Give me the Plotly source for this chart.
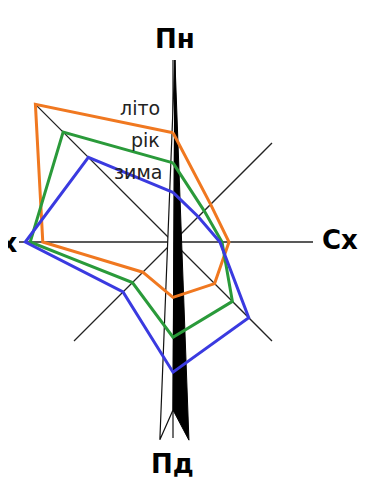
import numpy as np
import plotly.graph_objects as go

# wind directions (degrees clockwise from north) and repeatability, %
directions = ["Пн", "ПнСх", "Сх", "ПдСх", "Пд", "ПдЗх", "Зх", "ПнЗх"]
angles = [0, 45, 90, 135, 180, 225, 270, 315]

summer = [15.6, 7.6, 8.0, 8.4, 7.9, 6.1, 18.6, 27.8]   # літо
year = [11.3, 6.3, 7.0, 12.0, 13.6, 8.2, 20.4, 22.2]    # рік
winter = [7.1, 5.1, 6.7, 15.3, 18.6, 10.1, 21.1, 17.1]  # зима

series_names = ["літо", "рік", "зима"]
series_colors = ["#f07820", "#2a9a3a", "#3a3ae0"]

# length of the drawn rose axes, same units
axis_len = [26, 20, 20, 20, 28, 20, 22, 28]

# compass needle outline (r, theta): tip, tail corner, notch
needle_r_black = [26.0, 28.4, 24.0, 26.0]
needle_t_black = [0.6, 175.4, 180.0, 0.6]
needle_r_white = [26.0, 28.3, 24.0, 26.0]
needle_t_white = [0.6, 183.8, 180.0, 0.6]


def to_xy(r, theta):
    r = np.array(r, dtype=float)
    t = np.radians(np.array(theta, dtype=float))
    return r * np.sin(t), r * np.cos(t)


fig = go.Figure()

# rose axes
ax_x, ax_y = [], []
for a, L in zip(angles, axis_len):
    x, y = to_xy([0, L], [a, a])
    ax_x += list(x) + [None]
    ax_y += list(y) + [None]
fig.add_trace(go.Scatter(
    x=ax_x, y=ax_y, mode='lines',
    line=dict(color='#222222', width=1.3), hoverinfo='skip'
))

# needle
x, y = to_xy(needle_r_white, needle_t_white)
fig.add_trace(go.Scatter(
    x=x, y=y, mode='lines', fill='toself', fillcolor='white',
    line=dict(color='#111111', width=1.2), hoverinfo='skip'
))
x, y = to_xy(needle_r_black, needle_t_black)
fig.add_trace(go.Scatter(
    x=x, y=y, mode='lines', fill='toself', fillcolor='black',
    line=dict(color='black', width=1), hoverinfo='skip'
))

for name, vals, color in zip(series_names, [summer, year, winter], series_colors):
    x, y = to_xy(vals + [vals[0]], angles + [angles[0]])
    fig.add_trace(go.Scatter(
        x=x, y=y, mode='lines', name=name,
        line=dict(color=color, width=3),
        customdata=np.array(vals + [vals[0]]),
        text=directions + [directions[0]],
        hovertemplate='%{text}: %{customdata}%<extra>' + name + '</extra>'
    ))

W, H = 381, 504
off = 8  # page body margin
cx, cy, px = 173 - off, 242 - off, 7.0  # centre in pixels, pixels per percent

fig.update_layout(
    width=W, height=H,
    margin=dict(l=0, r=0, t=0, b=0),
    paper_bgcolor='white', plot_bgcolor='white',
    showlegend=False,
    xaxis=dict(visible=False, range=[-cx / px, (W - cx) / px], fixedrange=True),
    yaxis=dict(visible=False, range=[-(H - cy) / px, cy / px], fixedrange=True),
)

bold = dict(family='DejaVu Sans', size=26, color='black')
text_font = dict(family='DejaVu Sans', size=19, color='#222222')
labels = [
    ("<b>Пн</b>", 175, 39, 'center', bold),
    ("<b>Пд</b>", 172, 464, 'center', bold),
    ("<b>Сх</b>", 340, 240, 'center', bold),
    ("<b>Зх</b>", 19, 243, 'right', bold),
    ("літо", 162, 108, 'right', text_font),
    ("рік", 162, 140, 'right', text_font),
    ("зима", 164, 172, 'right', text_font),
]
for txt, x, y, anchor, font in labels:
    fig.add_annotation(
        text=txt, x=(x - off) / W, y=(H - y + off) / H, xref='paper', yref='paper',
        xanchor=anchor, yanchor='middle', showarrow=False, font=font
    )

fig.write_html("out.html")
